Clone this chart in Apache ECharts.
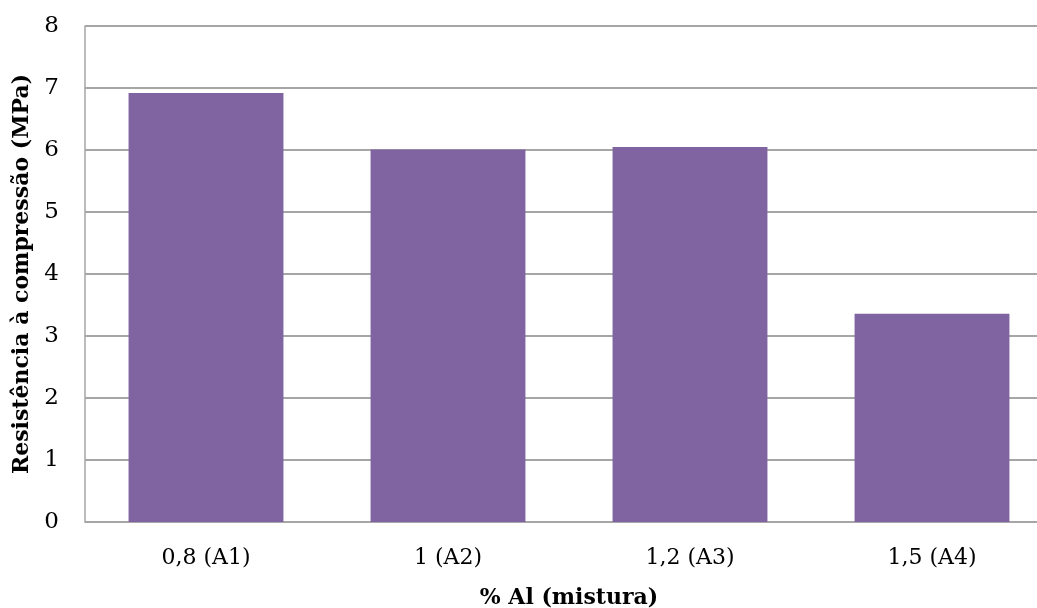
<!DOCTYPE html>
<html>
<head>
<meta charset="utf-8">
<script src="https://cdn.jsdelivr.net/npm/echarts@6/dist/echarts.min.js"></script>
<style>
  html, body { margin: 0; padding: 0; background: #fff; }
  #chart { width: 1037px; height: 608px; }
</style>
</head>
<body>
<div id="chart"></div>
<script>
// Compressive strength by aluminium content of the mix
const categories = ['0,8 (A1)', '1 (A2)', '1,2 (A3)', '1,5 (A4)'];
const strength = [6.92, 6.01, 6.05, 3.36];
const yTicks = { min: 0, max: 8, interval: 1 };

const serif = '"DejaVu Serif", "Liberation Serif", serif';

const chart = echarts.init(document.getElementById('chart'), null, { renderer: 'canvas' });
chart.setOption({
  animation: false,
  backgroundColor: '#ffffff',
  // the plot area runs slightly past the right edge of the canvas
  grid: { left: 85, top: 26, width: 968, height: 496, containLabel: false, outerBoundsMode: 'none' },
  xAxis: {
    type: 'category',
    data: categories,
    name: '% Al (mistura)',
    nameLocation: 'middle',
    nameGap: 65,
    nameTextStyle: { fontFamily: serif, fontWeight: 'bold', fontSize: 22, color: '#000' },
    axisLine: { show: true, lineStyle: { color: '#a6a6a6', width: 1.5 } },
    axisTick: { show: false },
    axisLabel: { fontFamily: serif, fontSize: 22, color: '#000', margin: 25 }
  },
  yAxis: {
    type: 'value',
    min: yTicks.min,
    max: yTicks.max,
    interval: yTicks.interval,
    name: 'Resistência à compressão (MPa)',
    nameLocation: 'middle',
    nameGap: 50,
    nameTextStyle: { fontFamily: serif, fontWeight: 'bold', fontSize: 22, color: '#000' },
    axisLine: { show: true, lineStyle: { color: '#a6a6a6', width: 1.5 } },
    axisTick: { show: false },
    axisLabel: { fontFamily: serif, fontSize: 23, color: '#000', margin: 26 },
    splitLine: { show: true, lineStyle: { color: '#888888', width: 1.5 } }
  },
  series: [{
    type: 'bar',
    data: strength,
    barCategoryGap: '36%',
    itemStyle: { color: '#8064A2' }
  }]
});
</script>
</body>
</html>
